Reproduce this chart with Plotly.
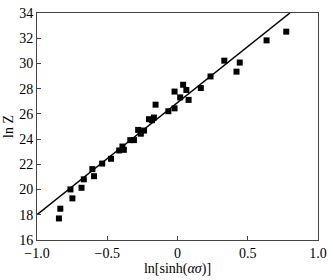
import plotly.graph_objects as go

x_vals = [0.774, 0.634, 0.443, 0.42, 0.333, 0.235, 0.166, 0.079, 0.063, 0.04, 0.019,
          -0.021, -0.021, -0.065, -0.156, -0.168, -0.182, -0.203, -0.238, -0.261, -0.28,
          -0.31, -0.336, -0.382, -0.392, -0.415, -0.473, -0.536, -0.594, -0.606, -0.667,
          -0.683, -0.748, -0.762, -0.834, -0.844]
y_vals = [32.52, 31.83, 30.07, 29.35, 30.22, 28.97, 28.05, 27.11, 27.9, 28.31, 27.31,
          27.77, 26.44, 26.21, 26.73, 25.71, 25.5, 25.58, 24.68, 24.43, 24.73,
          23.92, 23.92, 23.15, 23.41, 23.1, 22.44, 22.06, 21.06, 21.62, 20.81,
          20.14, 19.3, 20.01, 18.48, 17.71]
fit_x = [-1.0, 0.8]
fit_y = [18.0, 34.0]
x_ticks = [-1.0, -0.5, 0, 0.5, 1.0]
x_tick_labels = ["\u22121.0", "\u22120.5", "0", "0.5", "1.0"]
y_ticks = [16, 18, 20, 22, 24, 26, 28, 30, 32, 34]

fig = go.Figure()
fig.add_trace(go.Scatter(x=fit_x, y=fit_y, mode="lines",
                         line=dict(color="black", width=1.5), showlegend=False,
                         cliponaxis=True))
fig.add_trace(go.Scatter(x=x_vals, y=y_vals, mode="markers",
                         marker=dict(symbol="square", size=6, color="black"),
                         showlegend=False))

font = dict(family="Liberation Serif", size=14, color="black")
fig.update_layout(
    width=333, height=280,
    margin=dict(l=37, r=9, t=6, b=38),
    paper_bgcolor="white", plot_bgcolor="white",
    font=font,
    xaxis=dict(range=[-1.0, 1.0], tickvals=x_ticks, ticktext=x_tick_labels,
               ticks="inside", ticklen=4, tickcolor="#444", showgrid=False, zeroline=False,
               showline=True, linecolor="#444", linewidth=1, mirror=True,
               ticklabeloverflow="allow",
               title=dict(text="ln[sinh(<i>\u03b1\u03c3</i>)]", standoff=3, font=font)),
    yaxis=dict(range=[16, 34], tickvals=y_ticks,
               ticks="inside", ticklen=4, tickcolor="#444", showgrid=False, zeroline=False,
               showline=True, linecolor="#444", linewidth=1, mirror=True,
               ticklabeloverflow="allow",
               title=dict(text="ln Z", standoff=2, font=font)),
)
fig.write_html("out.html")
